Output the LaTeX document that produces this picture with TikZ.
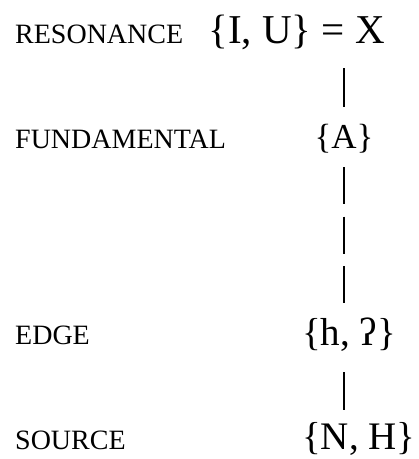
\documentclass[tikz,border=0pt]{standalone}
\usepackage{fontspec}
\setmainfont{Liberation Serif}
\begin{document}
\begin{tikzpicture}[x=1pt,y=1pt,
  lab/.style={anchor=base west, font=\fontsize{28}{30}\selectfont, inner sep=0pt},
  setx/.style={anchor=base, font=\fontsize{39}{44}\selectfont, inner sep=0pt},
  bar/.style={line width=1.4pt, black}]
\useasboundingbox (0,0) rectangle (419,-459);
\coordinate (axis) at (344,0);
\node[lab] (lres) at (15,-43) {RESONANCE};
\node[lab] (lfun) at (15,-148) {FUNDAMENTAL};
\node[lab] (ledg) at (15,-344) {EDGE};
\node[lab] (lsrc) at (15,-449) {SOURCE};
\node[setx, font=\fontsize{41}{44}\selectfont, anchor=base east] (sres) at (385,-43) {\{I, U\} = X};
\node[setx, font=\fontsize{35}{40}\selectfont] (sfun) at (344,-148) {\{A\}};
\node[setx, anchor=base west] (sedg) at (302,-345) {\{h, ʔ\}};
\node[setx, anchor=base west] (ssrc) at (302,-449) {\{N, H\}};
\draw[bar] ([yshift=-25pt]sres.base -| axis) -- ([yshift=41pt]sfun.base -| axis);
\draw[bar, dash pattern=on 37pt off 12.5pt] ([yshift=-19pt]sfun.base -| axis) -- ([yshift=42pt]sedg.base -| axis);
\draw[bar] ([yshift=-27pt]sedg.base -| axis) -- ([yshift=39pt]ssrc.base -| axis);
\end{tikzpicture}
\end{document}
